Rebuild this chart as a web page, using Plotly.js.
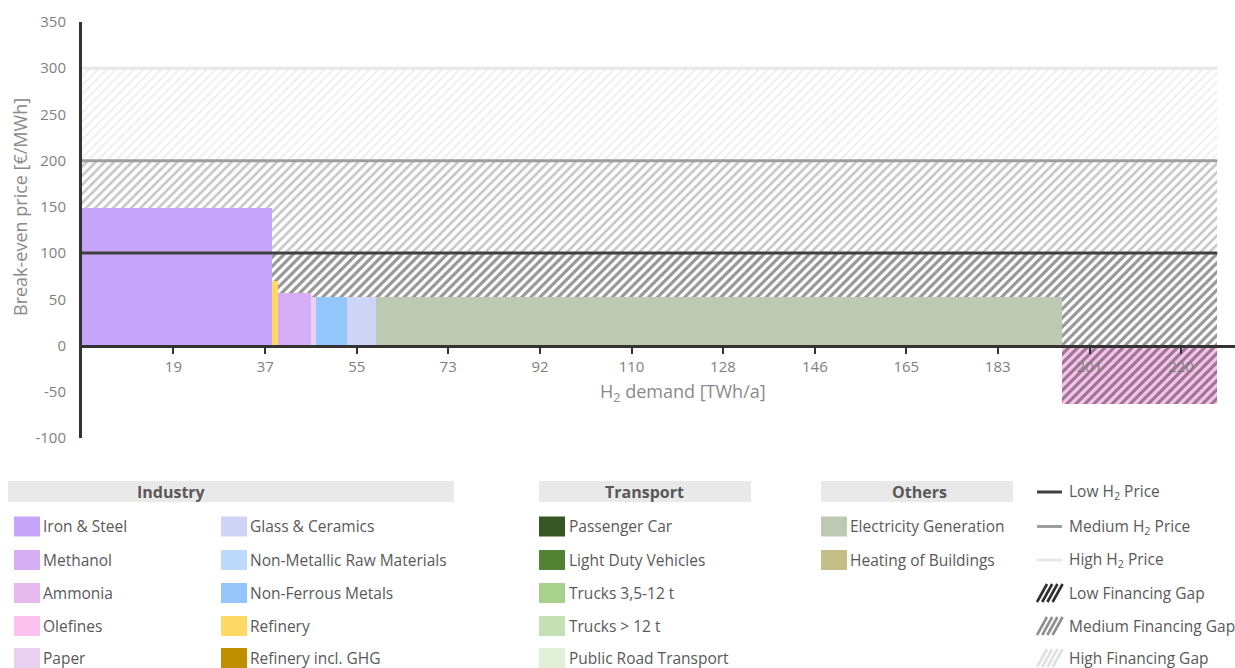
<!DOCTYPE html>
<html>
<head>
<meta charset="utf-8">
<script src="https://cdn.plot.ly/plotly-3.0.1.min.js"></script>
<style>html,body{margin:0;padding:0;background:#fff;}#chart{width:1235px;height:668px;}</style>
</head>
<body>
<div id="chart"></div>
<script>
// ---- data ----
const sectors = ['Iron & Steel', 'Refinery', 'Methanol', 'Paper', 'Non-Ferrous Metals', 'Glass & Ceramics', 'Electricity Generation', 'Olefines'];
const demand = [38.0, 1.25, 6.6, 1.0, 6.2, 5.8, 137.4, 31.0];          // TWh/a
const breakEven = [148.5, 70, 57, 52, 52, 52, 52, -63];                 // €/MWh
const priceNames = ['Low H<sub>2</sub> Price', 'Medium H<sub>2</sub> Price', 'High H<sub>2</sub> Price'];
const priceLevels = [100, 200, 300];
const gapNames = ['Low Financing Gap', 'Medium Financing Gap', 'High Financing Gap'];
const xTickVals = [18.3, 36.7, 55, 73.3, 91.7, 110, 128.3, 146.7, 165, 183.3, 201.7, 220];
const xTickText = ['19', '37', '55', '73', '92', '110', '128', '146', '165', '183', '201', '220'];
const yTickVals = [-100, -50, 0, 50, 100, 150, 200, 250, 300, 350];
const yTickText = ['-100', '-50', '0', '50', '100', '150', '200', '250', '300', '350'];

const industryCol1 = ['Iron & Steel', 'Methanol', 'Ammonia', 'Olefines', 'Paper'];
const industryCol2 = ['Glass & Ceramics', 'Non-Metallic Raw Materials', 'Non-Ferrous Metals', 'Refinery', 'Refinery incl. GHG'];
const transport = ['Passenger Car', 'Light Duty Vehicles', 'Trucks 3,5-12 t', 'Trucks > 12 t', 'Public Road Transport'];
const others = ['Electricity Generation', 'Heating of Buildings'];

const colors = {
  'Iron & Steel': '#c6a6fb', 'Methanol': '#d5aef6', 'Ammonia': '#e8b9ee', 'Olefines': '#fdc2ef', 'Paper': '#e8d0f1',
  'Glass & Ceramics': '#cdd4f6', 'Non-Metallic Raw Materials': '#bcdbfc', 'Non-Ferrous Metals': '#94c5fb',
  'Refinery': '#ffd966', 'Refinery incl. GHG': '#bf8f00',
  'Passenger Car': '#375623', 'Light Duty Vehicles': '#548235', 'Trucks 3,5-12 t': '#a9d18e',
  'Trucks > 12 t': '#c5e0b4', 'Public Road Transport': '#e2f0d9',
  'Electricity Generation': '#bdc9b3', 'Heating of Buildings': '#c4bf87'
};
const priceColors = ['#404040', '#9e9e9e', '#e8e8e8'];
const hatchColors = ['#2e2e2e', '#8f8f8f', '#e0e0e0'];
const hatchSolidity = [0.5, 0.42, 0.36];

// ---- derived bar geometry ----
const starts = [];
let acc = 0;
demand.forEach(d => { starts.push(acc); acc += d; });
const total = acc;
const mids = demand.map((d, i) => starts[i] + d / 2);

const traces = [];
traces.push({
  type: 'bar', x: mids, y: breakEven, width: demand, base: 0,
  marker: {color: sectors.map(s => colors[s]), line: {width: 0}},
  hovertext: sectors, hoverinfo: 'text+y', textposition: 'none', showlegend: false
});

priceLevels.forEach((lvl, i) => {
  const lower = breakEven.map(v => i === 0 ? v : Math.max(v, priceLevels[i - 1]));
  const h = lower.map(lo => Math.max(0, lvl - lo));
  traces.push({
    type: 'bar', x: mids, y: h, base: lower, width: demand, name: gapNames[i],
    marker: {color: 'rgba(0,0,0,0)', line: {width: 0},
      pattern: {shape: '/', fgcolor: hatchColors[i], bgcolor: 'rgba(0,0,0,0)', size: 6.4, solidity: hatchSolidity[i], fillmode: 'overlay'}},
    textposition: 'none', hoverinfo: 'skip', showlegend: false
  });
});

priceLevels.forEach((lvl, i) => {
  traces.push({
    type: 'scatter', mode: 'lines', x: [0, total], y: [lvl, lvl],
    line: {color: priceColors[i], width: 3}, hoverinfo: 'skip', showlegend: false
  });
});

// ---- layout helpers (pixel -> paper) ----
const L = 82, R = 1235, T = 22, B = 438;
const px = x => (x - L) / (R - L);
const py = y => (B - y) / (B - T);

const FONT = 'Open Sans, Lato, sans-serif';
const TXT = '#595959';
const LEG = 15.5;
const shapes = [];
const annotations = [];

// axis title annotations
annotations.push({xref: 'paper', yref: 'paper', x: px(20), y: py(207), xanchor: 'center', yanchor: 'middle',
  text: 'Break-even price [€/MWh]', textangle: -90,
  showarrow: false, font: {family: FONT, size: 18, color: '#8a8a8a'}});
annotations.push({xref: 'paper', yref: 'paper', x: px(683), y: py(392), xanchor: 'center', yanchor: 'middle',
  text: 'H<sub>2</sub> demand [TWh/a]',
  showarrow: false, font: {family: FONT, size: 18, color: '#8a8a8a'}});

// legend headers
function header(x0, x1, textX, label) {
  shapes.push({type: 'rect', xref: 'paper', yref: 'paper', x0: px(x0), x1: px(x1), y0: py(502), y1: py(481),
    fillcolor: '#e9e9e9', line: {width: 0}, layer: 'below'});
  annotations.push({xref: 'paper', yref: 'paper', x: px(textX), y: py(491.5), xanchor: 'center', yanchor: 'middle',
    text: '<b>' + label + '</b>', showarrow: false,
    font: {family: FONT, size: 16, color: TXT}});
}
header(8, 454, 171, 'Industry');
header(539, 751, 644, 'Transport');
header(821, 1013, 919, 'Others');

const rowY = [526.5, 560, 593, 626, 658];
function swatchCol(list, sx, tx) {
  list.forEach((name, k) => {
    const yc = rowY[k];
    shapes.push({type: 'rect', xref: 'paper', yref: 'paper', x0: px(sx), x1: px(sx + 26), y0: py(yc + 10), y1: py(yc - 10),
      fillcolor: colors[name], line: {width: 0}});
    annotations.push({xref: 'paper', yref: 'paper', x: px(tx), y: py(yc - 0.5), xanchor: 'left', yanchor: 'middle', text: name,
      showarrow: false, font: {family: FONT, size: LEG, color: TXT}});
  });
}
swatchCol(industryCol1, 14, 41);
swatchCol(industryCol2, 221, 248);
swatchCol(transport, 539, 567);
swatchCol(others, 821, 848);

// right legend: price lines and financing gaps
const rightY = [492, 526.5, 560, 593, 626, 658];
priceNames.forEach((name, i) => {
  const yc = rightY[i];
  shapes.push({type: 'line', xref: 'paper', yref: 'paper', x0: px(1037), x1: px(1062), y0: py(yc), y1: py(yc),
    line: {color: priceColors[i], width: 3}});
  annotations.push({xref: 'paper', yref: 'paper', x: px(1067), y: py(yc - 0.5), xanchor: 'left', yanchor: 'middle', text: name,
    showarrow: false, font: {family: FONT, size: LEG, color: TXT}});
});
gapNames.forEach((name, i) => {
  const yc = rightY[i + 3];
  for (let k = 0; k < 4; k++) {
    const xs = 1037 + k * 5.2;
    shapes.push({type: 'line', xref: 'paper', yref: 'paper', x0: px(xs), x1: px(xs + 10), y0: py(yc + 9), y1: py(yc - 9),
      line: {color: hatchColors[i], width: 2.6}});
  }
  annotations.push({xref: 'paper', yref: 'paper', x: px(1067), y: py(yc - 0.5), xanchor: 'left', yanchor: 'middle', text: name,
    showarrow: false, font: {family: FONT, size: LEG, color: TXT}});
});

const layout = {
  width: 1235, height: 668,
  margin: {l: L, r: 1235 - R, t: T, b: 668 - B, pad: 0},
  paper_bgcolor: '#ffffff', plot_bgcolor: '#ffffff',
  font: {family: FONT, color: TXT},
  barmode: 'overlay', bargap: 0,
  showlegend: false,
  xaxis: {
    range: [0, 230.8], anchor: 'free', position: 100 / 450,
    tickvals: xTickVals, ticktext: xTickText, ticks: 'outside', ticklen: 6, tickwidth: 2, tickcolor: '#333333',
    tickfont: {family: FONT, size: 15, color: '#7f7f7f'},
    showline: true, linecolor: '#333333', linewidth: 3, showgrid: false, zeroline: false, fixedrange: true
  },
  yaxis: {
    range: [-100, 350], tickvals: yTickVals, ticktext: yTickText, ticks: '', showgrid: false, zeroline: false,
    showline: true, linecolor: '#333333', linewidth: 3,
    tickfont: {family: FONT, size: 15, color: '#7f7f7f'}, ticklabelstandoff: 10, fixedrange: true
  },
  shapes: shapes,
  annotations: annotations
};

Plotly.newPlot('chart', traces, layout, {displayModeBar: false, staticPlot: true});
</script>
</body>
</html>
